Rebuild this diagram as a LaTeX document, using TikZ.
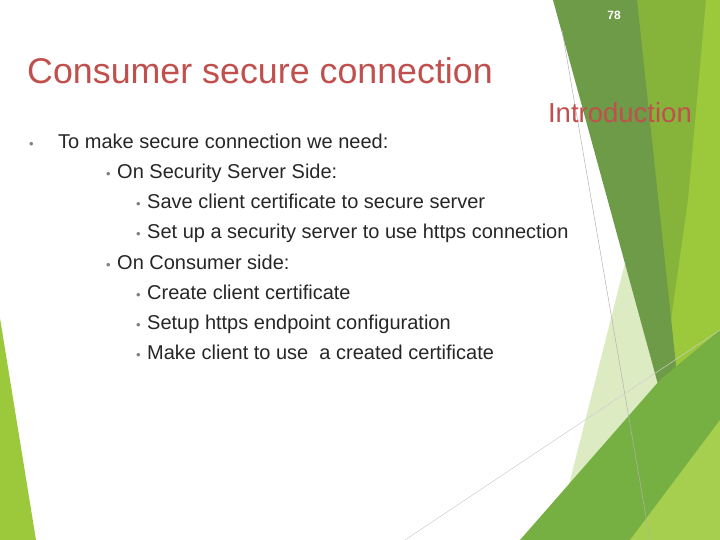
\documentclass[tikz,border=0pt]{standalone}
\usepackage{fontspec}
\setmainfont{Liberation Sans}
\definecolor{darkband}{HTML}{6E9B47}
\definecolor{oliveband}{HTML}{86B43A}
\definecolor{brightband}{HTML}{9CC93B}
\definecolor{paleband}{HTML}{DDEBC3}
\definecolor{midband}{HTML}{76B043}
\definecolor{titlered}{HTML}{C0504D}
\begin{document}
\begin{tikzpicture}[x=1pt,y=-1pt,
  lvl/.style={anchor=base west,inner sep=0pt,text=black!85,font=\fontsize{20}{24}\selectfont},
  bul/.style={anchor=base west,inner sep=0pt,text=gray,font=\fontsize{13}{14}\selectfont}]
		\def\xA{29}
		\def\xB{106}
		\def\xC{136}
		\def\gap{11}
\useasboundingbox (0,0) rectangle (720,540);
% background shapes
\fill[brightband] (0,318) -- (36,540) -- (0,540) -- cycle;
\fill[oliveband] (620,0) -- (720,0) -- (720,540) -- (665,540) -- (660,400) -- cycle;
\fill[brightband] (706,0) -- (720,0) -- (720,540) -- (640,540) -- (688,200) -- cycle;
\fill[paleband] (627,255) -- (665,380) -- (662,540) -- (555,540) -- cycle;
\fill[darkband] (553,0) -- (637,0) -- (676,365) -- (665,410) -- cycle;
\fill[midband] (520,540) -- (660,380) -- (720,330) -- (720,540) -- cycle;
\fill[brightband!90!white] (630,540) -- (720,420) -- (720,540) -- cycle;
\draw[gray!60,line width=0.5pt] (562,30) -- (650,540);
\draw[gray!40,line width=0.5pt] (405,540) -- (720,330);
% texts
\node[anchor=base,inner sep=0pt,text=white,font=\bfseries\fontsize{12}{14}\selectfont] (num) at (614,20) {78};
\node[anchor=base west,inner sep=0pt,text=titlered,font=\fontsize{35.8}{40}\selectfont] (title) at (27,84) {Consumer secure connection};
\node[anchor=base east,inner sep=0pt,text=titlered,font=\fontsize{27.5}{32}\selectfont] (intro) at (692,123) {Introduction};
\foreach \x/\y/\t in {\xA/149/To make secure connection we need:,
  \xB/179/On Security Server Side:,
  \xC/209/Save client certificate to secure server,
  \xC/239/Set up a security server to use https connection,
  \xB/269/On Consumer side:,
  \xC/299/Create client certificate,
  \xC/329/Setup https endpoint configuration,
  \xC/359/Make client to use\ \ a created certificate}{
  \node[bul] at (\x,\y) {•};
  \node[lvl] at ({\x+\gap+(\x==\xA)*18},\y) {\t};
}
\end{tikzpicture}
\end{document}
